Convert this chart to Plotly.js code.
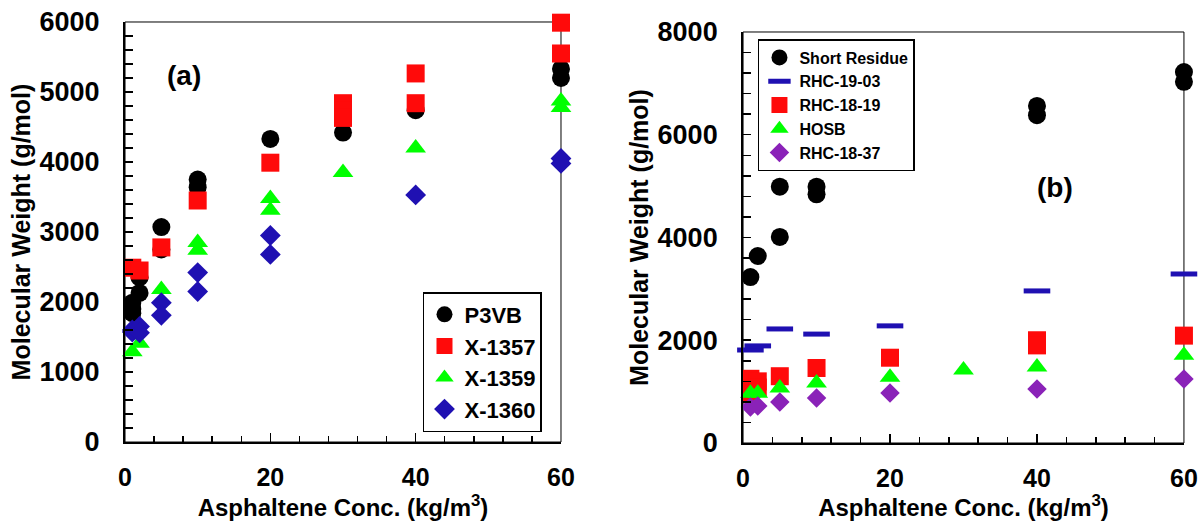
<!DOCTYPE html>
<html>
<head>
<meta charset="utf-8">
<script src="https://cdn.plot.ly/plotly-3.0.1.min.js"></script>
<style>html,body{margin:0;padding:0;background:#fff;}#chart{width:1201px;height:521px;}</style>
</head>
<body>
<div id="chart"></div>
<script>
// ---- Panel (a) data ----
const p3vbX = [1, 1, 1, 2, 2, 5, 5, 10, 10, 20, 30, 40, 60, 60];
const p3vbY = [1990, 1900, 1840, 2350, 2130, 3070, 2750, 3750, 3640, 4330, 4420, 4740, 5330, 5200];
const x1357X = [1, 2, 5, 10, 20, 30, 30, 30, 40, 40, 60, 60];
const x1357Y = [2490, 2450, 2780, 3450, 3990, 4840, 4730, 4630, 5265, 4840, 5990, 5550];
const x1359X = [1, 2, 5, 10, 10, 20, 20, 30, 40, 60, 60];
const x1359Y = [1290, 1410, 2180, 2850, 2740, 3480, 3310, 3850, 4200, 4870, 4780];
const x1360X = [1, 1, 2, 2, 5, 5, 10, 10, 20, 20, 40, 60, 60];
const x1360Y = [1570, 1600, 1650, 1560, 1990, 1810, 2420, 2150, 2950, 2680, 3530, 4050, 3980];

// ---- Panel (b) data ----
const srX = [1, 2, 5, 5, 10, 10, 20, 20, 40, 40, 60, 60];
const srY = [3230, 3640, 4010, 4990, 4990, 4840, 5600, 5500, 6560, 6380, 7220, 7030];
const r1903X = [1, 2, 5, 10, 20, 40, 60];
const r1903Y = [1810, 1890, 2220, 2120, 2280, 2960, 3290];
const r1819X = [1, 1, 2, 2, 5, 10, 20, 40, 40, 60];
const r1819Y = [1250, 950, 1200, 1080, 1300, 1460, 1660, 2000, 1900, 2090];
const hosbX = [1, 2, 5, 10, 20, 30, 40, 60];
const hosbY = [970, 970, 1070, 1170, 1280, 1420, 1480, 1710];
const r1837X = [1, 2, 5, 10, 20, 40, 60];
const r1837Y = [700, 720, 800, 875, 975, 1050, 1245];

const xTitle = 'Asphaltene Conc. (kg/m<sup>3</sup>)';
const yTitle = 'Molecular Weight (g/mol)';

const FONT = 'Liberation Sans, Arial, sans-serif';
const BLUE = '#1f10b2', PURPLE = '#8a22b8', RED = '#ff0a0a', GREEN = '#00ff00';

function mk(x, y, name, marker, xa, ya, legend) {
  return {x: x, y: y, name: name, type: 'scatter', mode: 'markers', marker: marker,
          xaxis: xa, yaxis: ya, legend: legend, cliponaxis: false};
}

const data = [
  mk(p3vbX, p3vbY, 'P3VB', {symbol: 'circle', size: 18, color: '#000'}, 'x', 'y', 'legend'),
  mk(x1357X, x1357Y, 'X-1357', {symbol: 'square', size: 18, color: RED}, 'x', 'y', 'legend'),
  mk(x1359X, x1359Y, 'X-1359', {symbol: 'triangle-up', size: 18, color: GREEN}, 'x', 'y', 'legend'),
  mk(x1360X, x1360Y, 'X-1360', {symbol: 'diamond', size: 16, color: BLUE}, 'x', 'y', 'legend'),
  mk(srX, srY, 'Short Residue', {symbol: 'circle', size: 18, color: '#000'}, 'x2', 'y2', 'legend2'),
  mk(r1903X, r1903Y, 'RHC-19-03', {symbol: 'line-ew', size: 19, color: BLUE, line: {width: 5, color: BLUE}}, 'x2', 'y2', 'legend2'),
  mk(r1819X, r1819Y, 'RHC-18-19', {symbol: 'square', size: 18, color: RED}, 'x2', 'y2', 'legend2'),
  mk(hosbX, hosbY, 'HOSB', {symbol: 'triangle-up', size: 18, color: GREEN}, 'x2', 'y2', 'legend2'),
  mk(r1837X, r1837Y, 'RHC-18-37', {symbol: 'diamond', size: 15, color: PURPLE}, 'x2', 'y2', 'legend2')
];

function xax(domain, anchor) {
  return {domain: domain, anchor: anchor, range: [0, 60], tick0: 0, dtick: 20,
    ticks: 'inside', ticklen: 9, tickwidth: 1.5, tickcolor: '#000',
    minor: {dtick: 4, ticks: 'inside', ticklen: 6, tickwidth: 1.5, tickcolor: '#000'},
    showline: true, linewidth: 2, linecolor: '#000', showgrid: false, zeroline: false,
    tickfont: {size: 25, family: FONT, weight: 'bold', color: '#000'}, ticklabelstandoff: 12,
    title: {text: xTitle, font: {size: 24, family: FONT, weight: 'bold', color: '#000'}, standoff: 6},
    automargin: false, fixedrange: true};
}
function yax(domain, anchor, max, dt, mdt) {
  return {domain: domain, anchor: anchor, range: [0, max], tick0: 0, dtick: dt,
    ticks: 'inside', ticklen: 8, tickwidth: 1.5, tickcolor: '#000',
    minor: {dtick: mdt, ticks: 'inside', ticklen: 8, tickwidth: 1.5, tickcolor: '#000'},
    showline: true, linewidth: 2, linecolor: '#000', showgrid: false, zeroline: false,
    tickfont: {size: 27, family: FONT, weight: 'bold', color: '#000'}, ticklabelstandoff: 18,
    title: {text: yTitle, font: {size: 25, family: FONT, weight: 'bold', color: '#000'}, standoff: 2},
    automargin: false, fixedrange: true};
}

const layout = {
  width: 1201, height: 521,
  margin: {l: 0, r: 0, t: 0, b: 0},
  paper_bgcolor: '#fff', plot_bgcolor: '#fff',
  font: {family: FONT, color: '#000'},
  showlegend: true,
  xaxis: xax([0.1041, 0.4671], 'y'),
  yaxis: yax([0.1516, 0.9578], 'x', 6000, 1000, 200),
  xaxis2: xax([0.6187, 0.9858], 'y2'),
  yaxis2: yax([0.1497, 0.9386], 'x2', 8000, 2000, 400),
  legend: {x: 0.3522, y: 0.4395, xanchor: 'left', yanchor: 'top', bgcolor: '#fff',
    bordercolor: '#000', borderwidth: 1.5, tracegroupgap: 0,
    font: {size: 22, family: FONT, weight: 'bold', color: '#000'}},
  legend2: {x: 0.6311, y: 0.9251, xanchor: 'left', yanchor: 'top', bgcolor: '#fff',
    bordercolor: '#000', borderwidth: 1.5, tracegroupgap: 0,
    font: {size: 16, family: FONT, weight: 'bold', color: '#000'}},
  shapes: [
    {type: 'rect', xref: 'x domain', yref: 'y domain', x0: 0, x1: 1, y0: 0, y1: 1, line: {color: '#000', width: 1}, layer: 'below'},
    {type: 'rect', xref: 'x2 domain', yref: 'y2 domain', x0: 0, x1: 1, y0: 0, y1: 1, line: {color: '#000', width: 1}, layer: 'below'}
  ],
  annotations: [
    {text: '(a)', xref: 'paper', yref: 'paper', x: 0.1532, y: 0.856, xanchor: 'center', yanchor: 'middle', showarrow: false,
     font: {size: 28, family: FONT, weight: 'bold', color: '#000'}},
    {text: '(b)', xref: 'paper', yref: 'paper', x: 0.8784, y: 0.641, xanchor: 'center', yanchor: 'middle', showarrow: false,
     font: {size: 28, family: FONT, weight: 'bold', color: '#000'}}
  ]
};

Plotly.newPlot('chart', data, layout, {displayModeBar: false, staticPlot: true});
</script>
</body>
</html>
